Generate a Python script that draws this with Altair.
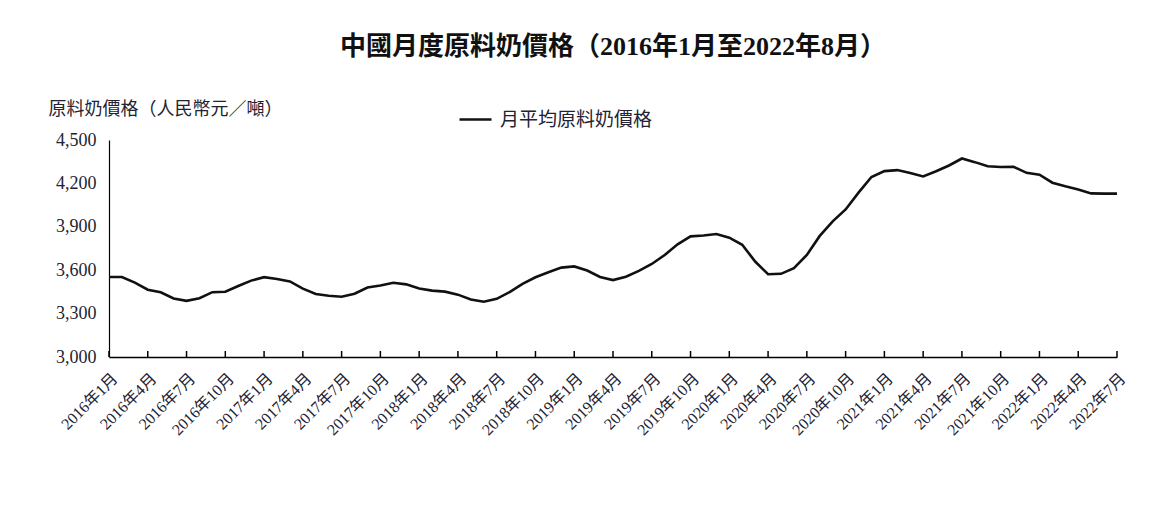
import altair as alt
import pandas as pd

# Categories: monthly periods 2016-01 .. 2022-07
years = [2016, 2017, 2018, 2019, 2020, 2021, 2022]
months = [f"{y}年{m}月" for y in years for m in range(1, 13)][:79]

# Monthly average raw milk price (RMB / tonne)
prices = [3553, 3553, 3514, 3465, 3447, 3405, 3388, 3406, 3448, 3451,
          3491, 3528, 3552, 3539, 3522, 3473, 3435, 3423, 3417, 3437,
          3480, 3494, 3513, 3502, 3473, 3459, 3452, 3431, 3398, 3382,
          3402, 3449, 3506, 3551, 3586, 3618, 3626, 3598, 3553, 3532,
          3555, 3595, 3643, 3705, 3779, 3834, 3840, 3850, 3825, 3776,
          3660, 3572, 3575, 3614, 3705, 3837, 3938, 4020, 4136, 4244,
          4285, 4292, 4272, 4248, 4284, 4324, 4372, 4347, 4318, 4313,
          4315, 4273, 4260, 4205, 4180, 4158, 4131, 4129, 4129]

tick_labels = months[::3]
y_ticks = [3000, 3300, 3600, 3900, 4200, 4500]
series_name = "月平均原料奶價格"

df = pd.DataFrame({"month": months, "price": prices, "series": series_name})
ticks_df = pd.DataFrame({"month": tick_labels})

FONT = "Liberation Serif, Noto Sans CJK TC"
TXT = "#222233"

xscale = alt.Scale(type="point", domain=months, padding=0)
xaxis = alt.Axis(values=tick_labels, labelAngle=-45, ticks=False,
                 domainColor="#000", domainWidth=1.5,
                 labelFont=FONT, labelFontSize=16, labelColor=TXT,
                 labelPadding=13, title=None, grid=False, labelOverlap=False)

line = alt.Chart(df).mark_line(strokeWidth=2.6, interpolate="linear").encode(
    x=alt.X("month:N", scale=xscale, sort=months, axis=xaxis),
    y=alt.Y("price:Q", scale=alt.Scale(domain=[3000, 4500]),
            axis=alt.Axis(values=y_ticks, format=",.0f", ticks=False, grid=False,
                          domainColor="#000", domainWidth=1.2,
                          labelFont=FONT, labelFontSize=18, labelColor=TXT,
                          labelPadding=13,
                          title="原料奶價格（人民幣元／噸）", titleAngle=0,
                          titleAlign="left", titleBaseline="middle",
                          titleX=-61, titleY=-31, titleFont=FONT,
                          titleFontSize=18, titleFontWeight="normal",
                          titleColor=TXT)),
    color=alt.Color("series:N", scale=alt.Scale(range=["#111111"]),
                    legend=alt.Legend(orient="none", legendX=349, legendY=-38,
                                      title=None, symbolType="stroke",
                                      symbolSize=1024, symbolStrokeWidth=2.6,
                                      labelFont=FONT, labelFontSize=19,
                                      labelColor=TXT, labelOffset=7, padding=0)),
)

tick_marks = alt.Chart(ticks_df).mark_rule(color="#000", strokeWidth=1.5).encode(
    x=alt.X("month:N", scale=xscale, sort=months, axis=xaxis),
    y=alt.value(211),
    y2=alt.value(217),
)

chart = alt.layer(line, tick_marks).properties(
    width=1008,
    height=217,
    padding={"left": 40, "top": 26, "right": 10, "bottom": 10},
    title=alt.TitleParams(
        "中國月度原料奶價格（2016年1月至2022年8月）",
        font=FONT, fontSize=26, fontWeight="bold", color="#111111",
        anchor="middle", offset=40,
    ),
).configure_view(stroke=None)

chart.save("out.html", embed_options={"renderer": "svg", "actions": False})
